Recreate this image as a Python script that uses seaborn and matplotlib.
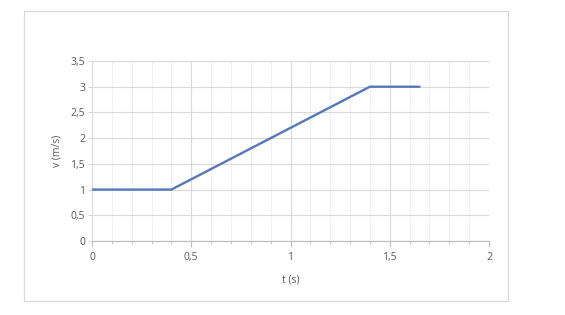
import matplotlib
matplotlib.use("Agg")
import matplotlib.pyplot as plt
import seaborn as sns
import pandas as pd
import numpy as np
from matplotlib.patches import Rectangle
from matplotlib.ticker import MultipleLocator, FuncFormatter

t_values = [0.0, 0.4, 1.4, 1.65]
v_values = [1.0, 1.0, 3.0, 3.0]
x_label = "t (s)"
y_label = "v (m/s)"

sns.set_theme(style="white")
plt.rcParams['font.family'] = ['Open Sans', 'DejaVu Sans']

df = pd.DataFrame({"t": t_values, "v": v_values})

fig = plt.figure(figsize=(5.65, 3.15), dpi=100)
fig.patch.set_facecolor("white")
fig.patches.append(Rectangle((24/565, 1-301/315), (508-24)/565, (301-11)/315,
                             transform=fig.transFigure, fill=False,
                             edgecolor="#D9D9D9", linewidth=0.9))
ax = fig.add_axes([92/565, 1-241/315, (489-92)/565, (241-61)/315])

sns.lineplot(data=df, x="t", y="v", ax=ax, color="#5677B8", linewidth=1.7,
             sort=False, estimator=None)

ax.set_xlim(0, 2)
ax.set_ylim(0, 3.5)
ax.xaxis.set_major_locator(MultipleLocator(0.5))
ax.xaxis.set_minor_locator(MultipleLocator(0.1))
ax.yaxis.set_major_locator(MultipleLocator(0.5))

fmt = FuncFormatter(lambda v, p: ("%g" % v).replace(".", ","))
ax.xaxis.set_major_formatter(fmt)
ax.yaxis.set_major_formatter(fmt)

ax.grid(True, which="major", axis="both", color="#D9D9D9", linewidth=0.8)
ax.grid(True, which="minor", axis="x", color="#EFEFEF", linewidth=0.6)
ax.set_axisbelow(True)

for s in ["top", "right", "left"]:
    ax.spines[s].set_visible(False)
ax.spines["bottom"].set_color("#BFBFBF")
ax.spines["bottom"].set_linewidth(0.9)

ax.tick_params(axis="x", which="major", direction="out", length=4, width=0.8,
               color="#BFBFBF", labelsize=7.5, labelcolor="#595959", pad=4, bottom=True)
ax.tick_params(axis="x", which="minor", direction="out", length=2.5, width=0.6,
               color="#BFBFBF", bottom=True)
ax.tick_params(axis="y", which="major", direction="out", length=3, width=0.8,
               color="#D9D9D9", labelsize=7.5, labelcolor="#595959", pad=2, left=True)

ax.set_xlabel(x_label, fontsize=7.5, color="#595959", labelpad=8)
ax.set_ylabel(y_label, fontsize=7.5, color="#595959", labelpad=6)

fig.savefig("out.png", dpi=100, facecolor="white")
